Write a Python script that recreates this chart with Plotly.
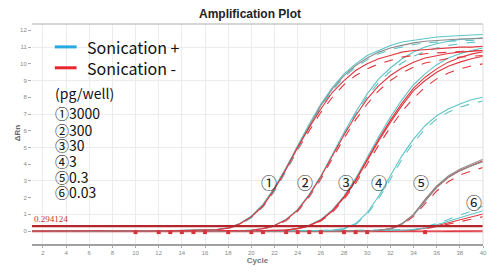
import plotly.graph_objects as go

# ---------------- data ----------------
cycles = list(range(1, 41))

# group 1 : 3000 pg/well
g1_cyan_a = [0.02,0.03,0.02,0.01,0.02,0.01,0.02,0.03,0.02,0.01,0.02,0.02,0.03,0.04,0.05,0.07,
             0.10,0.20,0.45,0.90,1.60,2.60,3.80,5.10,6.40,7.60,8.60,9.40,10.00,10.50,10.80,11.10,
             11.30,11.40,11.50,11.60,11.65,11.70,11.72,11.75]
g1_cyan_b = [0.01,0.02,0.01,0.00,0.01,0.02,0.01,0.02,0.01,0.02,0.01,0.02,0.02,0.03,0.04,0.06,
             0.09,0.17,0.38,0.80,1.45,2.40,3.60,4.90,6.20,7.40,8.40,9.20,9.80,10.25,10.60,10.85,
             11.00,11.15,11.25,11.30,11.35,11.38,11.40,11.42]
g1_red_a = [0.00,0.01,0.02,0.01,0.00,0.01,0.02,0.01,0.00,0.01,0.02,0.01,0.02,0.03,0.04,0.06,
            0.08,0.18,0.42,0.85,1.50,2.50,3.70,5.00,6.20,7.30,8.30,9.00,9.60,10.00,10.30,10.50,
            10.70,10.80,10.85,10.90,10.95,11.00,11.00,11.05]
g1_red_b = [0.01,0.00,0.01,0.02,0.01,0.00,0.01,0.02,0.01,0.00,0.01,0.02,0.02,0.02,0.03,0.05,
            0.07,0.16,0.40,0.82,1.45,2.40,3.60,4.85,6.00,7.10,8.00,8.75,9.30,9.70,10.00,10.20,
            10.40,10.50,10.60,10.65,10.70,10.75,10.78,10.80]
g1_gray = [0.02,0.01,0.02,0.02,0.01,0.02,0.01,0.01,0.02,0.02,0.01,0.01,0.02,0.03,0.04,0.06,
           0.09,0.19,0.44,0.88,1.55,2.55,3.75,5.05,6.30,7.50,8.50,9.30,9.90,10.35,10.70,10.95,
           11.10,11.25,11.35,11.40,11.45,11.48,11.50,11.52]

# group 2 : 300 pg/well
g2_cyan_a = [0.02,0.01,0.02,0.01,0.02,0.03,0.02,0.01,0.02,0.01,0.02,0.02,0.01,0.02,0.02,0.03,0.02,0.03,0.04,
             0.06,0.16,0.35,0.70,1.30,2.20,3.30,4.60,5.90,7.10,8.20,9.10,9.75,10.30,10.70,11.00,11.20,
             11.35,11.45,11.50,11.55]
g2_cyan_b = [0.01,0.02,0.01,0.02,0.01,0.02,0.01,0.02,0.01,0.02,0.01,0.01,0.02,0.01,0.02,0.02,0.03,0.02,0.03,
             0.05,0.14,0.32,0.66,1.25,2.10,3.20,4.50,5.80,7.00,8.05,8.90,9.55,10.05,10.45,10.75,10.95,
             11.10,11.20,11.28,11.32]
g2_red_a = [0.00,0.01,0.02,0.01,0.00,0.01,0.00,0.01,0.02,0.01,0.00,0.01,0.02,0.01,0.02,0.02,0.02,0.03,0.03,
            0.05,0.15,0.33,0.68,1.25,2.15,3.25,4.50,5.75,6.90,7.90,8.70,9.30,9.75,10.10,10.35,10.50,
            10.62,10.70,10.76,10.80]
g2_red_b = [0.01,0.00,0.01,0.00,0.01,0.02,0.01,0.00,0.01,0.00,0.01,0.02,0.01,0.01,0.02,0.01,0.02,0.02,0.03,
            0.04,0.13,0.30,0.62,1.18,2.05,3.10,4.35,5.55,6.65,7.60,8.40,9.00,9.45,9.80,10.05,10.20,
            10.32,10.40,10.45,10.50]

# group 3 : 30 pg/well
g3_cyan = [0.02,0.01,0.02,0.01,0.02,0.01,0.02,0.01,0.02,0.01,0.02,0.01,0.02,0.01,0.02,0.02,0.01,0.02,0.02,0.03,0.03,0.04,
           0.07,0.17,0.36,0.70,1.28,2.10,3.15,4.40,5.65,6.80,7.85,8.75,9.40,9.95,10.35,10.60,10.80,10.95]
g3_red_a = [0.00,0.01,0.00,0.01,0.02,0.01,0.00,0.01,0.00,0.01,0.02,0.01,0.00,0.01,0.01,0.02,0.01,0.02,0.02,0.02,0.03,0.03,
            0.06,0.15,0.32,0.64,1.20,2.00,3.00,4.20,5.40,6.50,7.50,8.40,9.00,9.50,9.85,10.10,10.30,10.45]
g3_red_b = [0.01,0.00,0.01,0.00,0.01,0.00,0.01,0.02,0.01,0.00,0.01,0.00,0.01,0.02,0.01,0.01,0.02,0.01,0.02,0.02,0.02,0.03,
            0.05,0.14,0.30,0.60,1.12,1.90,2.85,4.00,5.15,6.20,7.15,7.95,8.60,9.10,9.45,9.70,9.88,10.00]
g3_red_c = [0.01,0.01,0.00,0.01,0.01,0.02,0.01,0.00,0.01,0.01,0.00,0.01,0.02,0.01,0.01,0.01,0.02,0.02,0.01,0.02,0.03,0.03,
            0.06,0.15,0.33,0.66,1.22,2.05,3.05,4.28,5.50,6.62,7.65,8.55,9.20,9.70,10.10,10.38,10.58,10.72]

# group 4 : 3 pg/well (Sonication + only)
g4_cyan_a = [0.02,0.01,0.02,0.01,0.02,0.01,0.02,0.01,0.02,0.01,0.02,0.01,0.02,0.01,0.02,0.01,0.02,0.01,0.02,
             0.01,0.02,0.02,0.03,0.02,0.03,0.04,0.06,
             0.15,0.45,1.10,2.10,3.30,4.50,5.50,6.30,6.90,7.30,7.60,7.85,8.00]
g4_cyan_b = [0.01,0.02,0.01,0.02,0.01,0.02,0.01,0.02,0.01,0.02,0.01,0.02,0.01,0.02,0.01,0.02,0.01,0.02,0.01,
             0.02,0.01,0.02,0.02,0.03,0.03,0.04,0.05,
             0.13,0.40,1.00,1.95,3.10,4.30,5.30,6.10,6.70,7.10,7.40,7.62,7.78]

# group 5 : 0.3 pg/well
g5_gray_a = [0.01,0.02,0.01,0.00,0.01,0.02,0.01,0.00,0.01,0.02,0.01,0.00,0.01,0.02,0.01,0.00,0.01,0.02,0.01,0.00,
             0.01,0.02,0.01,0.01,0.02,0.01,0.02,0.02,0.03,0.03,
             0.05,0.15,0.45,1.00,1.90,2.70,3.30,3.70,4.00,4.30]
g5_gray_b = [0.00,0.01,0.02,0.01,0.00,0.01,0.02,0.01,0.00,0.01,0.02,0.01,0.00,0.01,0.02,0.01,0.00,0.01,0.02,0.01,
             0.00,0.01,0.02,0.01,0.01,0.02,0.01,0.02,0.02,0.03,
             0.04,0.13,0.42,0.95,1.80,2.60,3.20,3.60,3.90,4.15]
g5_red_a = [0.01,0.00,0.01,0.02,0.01,0.00,0.01,0.02,0.01,0.00,0.01,0.02,0.01,0.00,0.01,0.02,0.01,0.00,0.01,0.02,
            0.01,0.00,0.01,0.01,0.02,0.01,0.01,0.02,0.02,0.03,
            0.05,0.14,0.43,0.97,1.85,2.65,3.22,3.62,3.93,4.20]
g5_red_b = [0.00,0.01,0.00,0.01,0.00,0.01,0.00,0.01,0.00,0.01,0.00,0.01,0.00,0.01,0.00,0.01,0.00,0.01,0.00,0.01,
            0.00,0.01,0.01,0.00,0.01,0.01,0.02,0.01,0.02,0.02,
            0.04,0.12,0.38,0.88,1.65,2.40,2.95,3.35,3.60,3.80]

# group 6 : 0.03 pg/well
g6_cyan_a = [0.01,0.02,0.01,0.02,0.01,0.02,0.01,0.02,0.01,0.02,0.01,0.02,0.01,0.02,0.01,0.02,0.01,0.02,0.01,0.02,
             0.01,0.02,0.01,0.02,0.01,0.02,0.02,0.02,0.03,0.03,0.04,0.05,0.06,
             0.10,0.25,0.45,0.70,0.95,1.20,1.50]
g6_cyan_b = [0.02,0.01,0.02,0.01,0.02,0.01,0.02,0.01,0.02,0.01,0.02,0.01,0.02,0.01,0.02,0.01,0.02,0.01,0.02,0.01,
             0.02,0.01,0.02,0.01,0.02,0.01,0.02,0.02,0.02,0.03,0.03,0.04,0.05,
             0.08,0.20,0.38,0.58,0.80,1.00,1.22]
g6_red_a = [0.00,0.01,0.00,0.01,0.00,0.01,0.00,0.01,0.00,0.01,0.00,0.01,0.00,0.01,0.00,0.01,0.00,0.01,0.00,0.01,
            0.00,0.01,0.00,0.01,0.01,0.01,0.01,0.02,0.02,0.02,0.03,0.04,0.05,
            0.07,0.17,0.32,0.50,0.68,0.85,1.02]
g6_red_b = [0.01,0.00,0.01,0.00,0.01,0.00,0.01,0.00,0.01,0.00,0.01,0.00,0.01,0.00,0.01,0.00,0.01,0.00,0.01,0.00,
            0.01,0.00,0.01,0.00,0.01,0.01,0.01,0.01,0.02,0.02,0.02,0.03,0.04,
            0.06,0.14,0.27,0.42,0.58,0.72,0.86]

# non-amplified wells (flat near zero)
flat_red_a = [0.03,0.04,0.02,0.01,0.02,0.01,0.02,0.01,0.02,0.01,0.02,0.01,0.02,0.01,0.02,0.01,0.02,0.01,0.02,0.01,
              0.02,0.01,0.02,0.01,0.02,0.01,0.02,0.01,0.02,0.01,0.02,0.01,0.02,0.01,0.02,0.01,0.02,0.01,0.02,0.02]
flat_red_b = [-0.03,-0.04,-0.03,-0.04,-0.03,-0.04,-0.03,-0.04,-0.03,-0.04,-0.03,-0.04,-0.03,-0.04,-0.03,-0.04,
              -0.03,-0.04,-0.03,-0.04,-0.03,-0.04,-0.03,-0.04,-0.03,-0.04,-0.03,-0.04,-0.03,-0.04,-0.03,-0.04,
              -0.03,-0.04,-0.03,-0.04,-0.03,-0.04,-0.03,-0.04]

threshold = 0.294124
threshold_label = "0.294124"

# Ct flags drawn along the baseline
flag_cycles = [10, 12, 13, 14, 15, 16, 18, 20, 21, 23, 24, 25, 26, 28, 29, 30, 35]
flag_values = [-0.06] * len(flag_cycles)

x_ticks = list(range(2, 41, 2))
y_ticks = list(range(0, 13))

series_names = ["Sonication +", "Sonication -"]
amount_title = "(pg/well)"
amount_labels = ["①3000", "②300", "③30", "④3", "⑤0.3", "⑥0.03"]
curve_marks = ["①", "②", "③", "④", "⑤", "⑥"]
curve_mark_x = [21.5, 24.65, 28.15, 31.0, 34.65, 39.25]
curve_mark_y = [2.92, 2.92, 2.92, 2.92, 2.92, 1.73]

# ---------------- styles ----------------
CYAN = "#5fc4c8"
RED = "#e0363f"
GRAY = "#8c8c8c"
THR = "#b3262c"

curves = [
    (flat_red_a, RED, "solid"), (flat_red_b, RED, "solid"),
    (g6_red_b, RED, "dash"), (g6_red_a, RED, "solid"), (g6_cyan_b, CYAN, "solid"), (g6_cyan_a, CYAN, "dash"),
    (g5_red_b, RED, "dash"), (g5_red_a, RED, "solid"), (g5_gray_b, GRAY, "solid"), (g5_gray_a, GRAY, "solid"),
    (g4_cyan_b, CYAN, "dash"), (g4_cyan_a, CYAN, "solid"),
    (g3_red_b, RED, "dash"), (g3_cyan, CYAN, "solid"), (g3_red_c, RED, "solid"), (g3_red_a, RED, "solid"),
    (g2_red_b, RED, "dash"), (g2_cyan_b, CYAN, "dash"), (g2_cyan_a, CYAN, "solid"), (g2_red_a, RED, "solid"),
    (g1_red_b, RED, "dash"), (g1_cyan_b, CYAN, "dash"), (g1_cyan_a, CYAN, "solid"), (g1_gray, GRAY, "solid"),
    (g1_red_a, RED, "solid"),
]

fig = go.Figure()
for vals, col, dash in curves:
    assert len(vals) == len(cycles)
    fig.add_trace(go.Scatter(x=cycles, y=vals, mode="lines", showlegend=False, hoverinfo="skip",
                             line=dict(color=col, width=1.1, dash=dash)))

fig.add_trace(go.Scatter(x=flag_cycles, y=flag_values, mode="markers", showlegend=False, hoverinfo="skip",
                         marker=dict(symbol="square", size=4, color="#d9343c")))

fig.add_trace(go.Scatter(x=[cycles[0] - 1, cycles[-1] + 1], y=[threshold, threshold], mode="lines",
                         showlegend=False, hoverinfo="skip", line=dict(color=THR, width=2.2)))

X0, X1 = 1.06, 40.0
Y0, Y1 = -0.77, 12.38

fig.update_layout(
    width=497, height=273,
    margin=dict(l=32, r=10, t=24, b=28),
    paper_bgcolor="white", plot_bgcolor="white",
    title=dict(text="<b>Amplification Plot</b>", x=250 / 497, xanchor="center",
               y=1 - 14 / 273, yanchor="middle", yref="container",
               font=dict(family="Liberation Sans, Arial", size=12, color="#222")),
    xaxis=dict(range=[X0, X1], tickvals=x_ticks, ticks="outside", ticklen=2, tickcolor="#aaa",
               tickfont=dict(size=6, color="#888", family="Liberation Sans"),
               showgrid=True, gridcolor="#ececec", gridwidth=1, zeroline=False,
               showline=True, linecolor="#a0a0a0", linewidth=2,
               title=dict(text="<b>Cycle</b>", standoff=1,
                          font=dict(family="Liberation Sans", size=8, color="#777"))),
    yaxis=dict(range=[Y0, Y1], tickvals=y_ticks, ticks="outside", ticklen=3, tickcolor="#aaa",
               tickfont=dict(size=6, color="#888", family="Liberation Sans"),
               showgrid=False, zeroline=False, showline=False,
               minor=dict(tick0=1, dtick=2, showgrid=True, gridcolor="#ececec", ticks="")),
    font=dict(family="Noto Sans CJK JP"),
)

# frame top / right
fig.add_shape(type="line", xref="paper", yref="paper", x0=0, x1=1, y0=1, y1=1,
              line=dict(color="#c8c8c8", width=1.5))
fig.add_shape(type="line", xref="paper", yref="paper", x0=1, x1=1, y0=0, y1=1,
              line=dict(color="#dddddd", width=1))

# y axis title
fig.add_annotation(text="<b>ΔRn</b>", textangle=-90, xref="paper", yref="paper",
                   x=(11 - 32) / 455, y=(245 - 133) / 221, showarrow=False,
                   font=dict(family="Liberation Sans", size=8, color="#666"))

# threshold label
fig.add_annotation(text=threshold_label, x=X0, y=threshold, xanchor="left", yanchor="bottom",
                   showarrow=False, font=dict(family="Liberation Serif", size=9, color="#c0392b"))

# legend (manual)
leg_cols = ["#27a9e1", "#e8262d"]
leg_y = [47, 68]
for name, col, py in zip(series_names, leg_cols, leg_y):
    yp = (245 - py) / 221
    fig.add_shape(type="line", xref="paper", yref="paper", x0=(55 - 32) / 455, x1=(77 - 32) / 455,
                  y0=yp, y1=yp, line=dict(color=col, width=3))
    fig.add_annotation(text=name, xref="paper", yref="paper", x=(85 - 32) / 455, y=yp,
                       xanchor="left", yanchor="middle", showarrow=False,
                       font=dict(family="Noto Sans CJK JP", size=16, color="#111"))

amt_y = [93, 113, 130, 146, 162, 178, 193]
for txt, py in zip([amount_title] + amount_labels, amt_y):
    fig.add_annotation(text=txt, xref="paper", yref="paper", x=(53 - 32) / 455, y=(245 - py) / 221,
                       xanchor="left", yanchor="middle", showarrow=False,
                       font=dict(family="Noto Sans CJK JP", size=14, color="#111"))

for m, cx, cy in zip(curve_marks, curve_mark_x, curve_mark_y):
    fig.add_annotation(text=m, x=cx, y=cy, showarrow=False,
                       font=dict(family="Noto Sans CJK JP", size=16, color="#222"))

fig.write_html("out.html")
